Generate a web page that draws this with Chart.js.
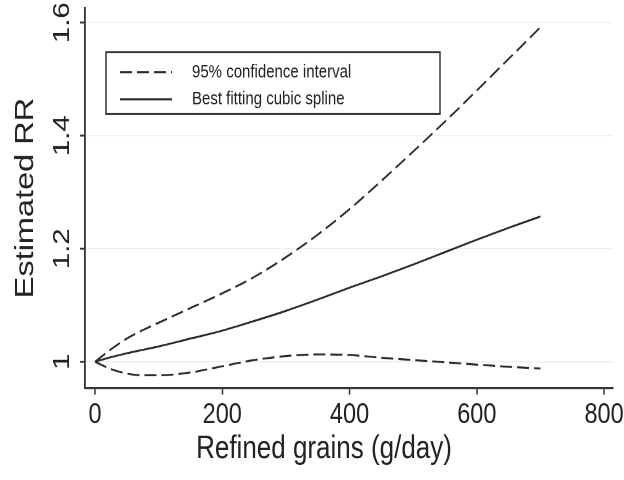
<!DOCTYPE html>
<html>
<head>
<meta charset="utf-8">
<script src="https://cdn.jsdelivr.net/npm/chart.js@4.4.1/dist/chart.umd.min.js"></script>
<style>
  html, body { margin: 0; padding: 0; background: #fff; }
  /* the figure is laid out on a 624x384 drawing surface and displayed 624x480 */
  #rr { display: block; width: 624px; height: 480px; }
</style>
</head>
<body>
<canvas id="rr" width="624" height="384" style="width:624px;height:480px"></canvas>
<script>
// Refined grain intake (g/day) and estimated relative risk
const intake   = [0, 25, 50, 75, 100, 150, 200, 250, 300, 350, 400, 450, 500, 550, 600, 650, 700];
const ciUpper  = [1.000, 1.022, 1.041, 1.056, 1.069, 1.095, 1.121, 1.150, 1.185, 1.225, 1.270, 1.320, 1.372, 1.425, 1.480, 1.536, 1.592];
const spline   = [1.000, 1.008, 1.015, 1.021, 1.027, 1.041, 1.055, 1.072, 1.090, 1.110, 1.131, 1.151, 1.172, 1.194, 1.216, 1.237, 1.257];
const ciLower  = [1.000, 0.987, 0.979, 0.976, 0.976, 0.981, 0.992, 1.003, 1.010, 1.013, 1.012, 1.007, 1.003, 0.999, 0.995, 0.991, 0.988];

const xTicks = [0, 200, 400, 600, 800];
const yTicks = [1, 1.2, 1.4, 1.6];
const legendLabels = ['95% confidence interval', 'Best fitting cubic spline'];
const xTitle = 'Refined grains (g/day)';
const yTitle = 'Estimated RR';

const FONT = "'Liberation Sans', Arial, Helvetica, sans-serif";
const INK = '#222';
const LINE = '#2b2b2b';
const DASH = [12, 5];

const pts = ys => intake.map((x, i) => ({ x: x, y: ys[i] }));

const lineStyle = { pointRadius: 0, borderWidth: 1.6, fill: false, cubicInterpolationMode: 'monotone' };

// framed legend inside the plot plus the x-axis title
const extras = {
  id: 'extras',
  afterDraw(chart) {
    const ctx = chart.ctx;
    const a = chart.chartArea;
    ctx.save();

    // x-axis title
    ctx.fillStyle = INK;
    ctx.font = '26px ' + FONT;
    ctx.textAlign = 'center';
    ctx.textBaseline = 'middle';
    ctx.fillText(xTitle, (a.left + a.right) / 2 - 25, a.bottom + 49);

    // legend box
    const bx = a.left + 21, by = a.top + 35.4, bw = 334, bh = 49.4;
    ctx.fillStyle = '#fff';
    ctx.fillRect(bx, by, bw, bh);
    ctx.strokeStyle = '#333';
    ctx.lineWidth = 1.5;
    ctx.strokeRect(bx, by, bw, bh);

    const samples = [chart.data.datasets[0], chart.data.datasets[1]];
    const rows = [by + 16, by + 37.6];
    ctx.font = '15px ' + FONT;
    ctx.textAlign = 'left';
    samples.forEach((ds, i) => {
      ctx.beginPath();
      ctx.setLineDash(ds.borderDash || []);
      ctx.strokeStyle = ds.borderColor;
      ctx.lineWidth = ds.borderWidth;
      ctx.moveTo(bx + 14, rows[i]);
      ctx.lineTo(bx + 66, rows[i]);
      ctx.stroke();
      ctx.setLineDash([]);
      ctx.fillStyle = INK;
      ctx.fillText(legendLabels[i], bx + 86, rows[i]);
    });
    ctx.restore();
  }
};

new Chart(document.getElementById('rr'), {
  type: 'line',
  data: {
    datasets: [
      Object.assign({ label: legendLabels[0], data: pts(ciUpper), borderColor: LINE, borderDash: DASH }, lineStyle),
      Object.assign({ label: legendLabels[1], data: pts(spline), borderColor: LINE }, lineStyle),
      Object.assign({ label: legendLabels[0], data: pts(ciLower), borderColor: LINE, borderDash: DASH }, lineStyle)
    ]
  },
  options: {
    responsive: false,
    devicePixelRatio: 2,
    animation: false,
    layout: { padding: { top: 6.4, right: 11, left: 0, bottom: 0 } },
    plugins: { legend: { display: false }, tooltip: { enabled: false } },
    scales: {
      x: {
        type: 'linear',
        min: -15.7,
        max: 814,
        afterBuildTicks: s => { s.ticks = xTicks.map(v => ({ value: v })); },
        afterFit: s => { s.height = 73.6; s.paddingLeft = 0; s.paddingRight = 0; },
        ticks: { minRotation: 0, maxRotation: 0, padding: 2, color: INK, font: { family: FONT, size: 23.5 } },
        grid: { drawOnChartArea: false, tickColor: '#333', tickLength: 5.3, tickWidth: 1.5 },
        border: { color: '#333', width: 1.8 }
      },
      y: {
        type: 'linear',
        min: 0.9535,
        max: 1.626,
        afterBuildTicks: s => { s.ticks = yTicks.map(v => ({ value: v })); },
        afterFit: s => { s.width = 85; s.paddingTop = 0; s.paddingBottom = 0; },
        ticks: {
          minRotation: 90, maxRotation: 90, crossAlign: 'center', padding: 1,
          color: INK, font: { family: FONT, size: 23.5 },
          callback: v => String(v)
        },
        grid: { color: '#efefef', lineWidth: 1, tickColor: '#333', tickLength: 5, tickWidth: 1.5 },
        border: { color: '#333', width: 1.8 },
        title: { display: true, text: yTitle, color: INK, font: { family: FONT, size: 26 }, padding: { top: 10.4, bottom: 0 } }
      }
    }
  },
  plugins: [extras]
});
</script>
</body>
</html>
